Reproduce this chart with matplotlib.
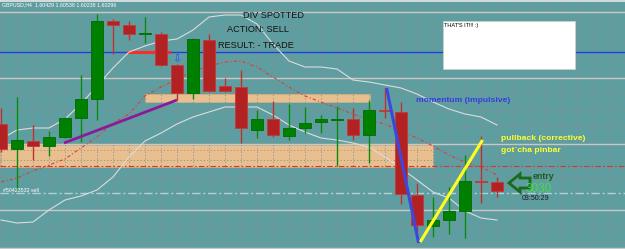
import numpy as np
import matplotlib
matplotlib.use('Agg')
import matplotlib.pyplot as plt
from matplotlib.patches import Rectangle, Polygon

# GBPUSD H4 candles, oldest -> newest (prices)
opens = [1.61299, 1.60924, 1.61044, 1.60969, 1.61104, 1.61389, 1.61674, 1.62844,
         1.62784, 1.62649, 1.62649, 1.62184, 1.61764, 1.62559, 1.61869, 1.61854,
         1.61209, 1.61374, 1.61119, 1.61239, 1.61329, 1.61359, 1.61374, 1.61134,
         1.61509, 1.61479, 1.60234, 1.59769, 1.59859, 1.59994, 1.60444, 1.60429]
highs = [1.61539, 1.61704, 1.61284, 1.61194, 1.61404, 1.62034, 1.62949, 1.62874,
         1.62844, 1.62904, 1.62679, 1.62199, 1.62589, 1.62649, 1.61989, 1.62109,
         1.61509, 1.61644, 1.61599, 1.61554, 1.61434, 1.61569, 1.61539, 1.61659,
         1.61839, 1.61629, 1.60414, 1.60204, 1.60354, 1.60834, 1.61119, 1.60504]
lows = [1.60879, 1.60324, 1.60759, 1.60819, 1.61089, 1.61029, 1.61359, 1.62349,
        1.62559, 1.62514, 1.62169, 1.61659, 1.61674, 1.61779, 1.61779, 1.61014,
        1.61089, 1.61104, 1.61059, 1.61164, 1.61164, 1.60669, 1.61059, 1.60714,
        1.61389, 1.60099, 1.59679, 1.59604, 1.59649, 1.59589, 1.60114, 1.60204]
closes = [1.60924, 1.61059, 1.60969, 1.61104, 1.61389, 1.61674, 1.62844, 1.62784,
          1.62649, 1.62664, 1.62184, 1.61764, 1.62574, 1.61794, 1.61794, 1.61239,
          1.61374, 1.61134, 1.61239, 1.61314, 1.61374, 1.61374, 1.61134, 1.61509,
          1.61494, 1.60249, 1.59784, 1.59859, 1.59994, 1.60444, 1.60429, 1.60294]

# bollinger bands
bb_upper = [1.61074, 1.61209, 1.61239, 1.61239, 1.61374, 1.61599, 1.61869, 1.62139,
            1.62379, 1.62469, 1.62544, 1.62574, 1.62709, 1.62904, 1.62934, 1.62934,
            1.62799, 1.62499, 1.62244, 1.62154, 1.62154, 1.62124, 1.61959, 1.61929,
            1.61884, 1.61839, 1.61749, 1.61629, 1.61524, 1.61449, 1.61404, 1.61284]
bb_middle = [1.60429, 1.60489, 1.60594, 1.60684, 1.60774, 1.60939, 1.61104, 1.61314,
             1.61449, 1.61719, 1.61854, 1.61974, 1.62094, 1.62169, 1.62229, 1.62244,
             1.62154, 1.62004, 1.61854, 1.61719, 1.61629, 1.61539, 1.61449, 1.61359,
             1.61299, 1.61194, 1.61089, 1.60969, 1.60834, 1.60729, 1.60654, 1.60534]
bb_lower = [1.59859, 1.59814, 1.59829, 1.60009, 1.60159, 1.60219, 1.60309, 1.60504,
            1.60804, 1.61044, 1.61164, 1.61299, 1.61404, 1.61479, 1.61554, 1.61554,
            1.61554, 1.61434, 1.61284, 1.61179, 1.61089, 1.61059, 1.61014, 1.60954,
            1.60804, 1.60639, 1.60459, 1.60279, 1.60189, 1.59994, 1.59889, 1.59859]

# horizontal levels
round_levels = [1.62979, 1.61989, 1.60999, 1.60009]
blue_level = 1.62379
sell_level = 1.60264
red_level = 1.60669
zone_mid = 1.60909

# zones: (x start, x end, price low, price high)
zone_big = (-0.0625, 27.0, 1.60654, 1.60984)
zone_small = (9.0, 23.06, 1.61629, 1.61749)

# drawn lines: (x0, x1), (p0, p1)
purple_x, purple_y = [3.94, 11.0], [1.61014, 1.61659]
blue_x, blue_y = [24.1, 26.1], [1.61839, 1.59514]
yellow_x, yellow_y = [26.2, 30.1], [1.59529, 1.61059]
redseg_x, redseg_y = [7.94, 10.5], [blue_level, blue_level]

W, H = 625, 249
bg = '#5f9ea0'
fig = plt.figure(figsize=(W / 100, H / 100), dpi=100, facecolor=bg)
ax = fig.add_axes([0, 0, 1, 1], facecolor=bg)
ax.set_xlim(-0.0625, 39.0)
ax.set_ylim(1.59424, 1.63159)
for s in ax.spines.values():
    s.set_visible(False)
ax.tick_params(left=False, bottom=False, labelleft=False, labelbottom=False)

def axpos(x, y):
    return x / W, 1 - y / H

x = np.arange(len(opens))
o = np.array(opens); c = np.array(closes)

# grid
for gx in np.arange(0, 39):
    ax.axvline(gx, color='#8c8c8c', lw=0.6, ls=(0, (1.5, 2.5)), zorder=2)
for gy in np.arange(1.59509, 1.6318, 0.0025):
    ax.axhline(gy, color='#8c8c8c', lw=0.6, ls=(0, (1.5, 2.5)), zorder=2)

# zones
for x0, x1, p0, p1 in [zone_big, zone_small]:
    ax.add_patch(Rectangle((x0, p0), x1 - x0, p1 - p0, facecolor='#e8c090',
                           edgecolor='#d8b080', lw=0.5, zorder=1))
ax.plot([zone_big[0], zone_big[1]], [zone_mid, zone_mid], color='#a09080',
        lw=0.6, ls=(0, (1.5, 2.5)), zorder=2)

for lv in round_levels:
    ax.axhline(lv, color='#c8c8c8', lw=1.0, zorder=2)
ax.axhline(blue_level, color='#1f3fe0', lw=1.0, zorder=2)
ax.axhline(sell_level, color='#a8d4dc', lw=1.0, ls=(0, (6, 2, 1.5, 2)), zorder=2)
ax.axhline(red_level, color='#e03030', lw=0.8, ls=(0, (5, 2, 1.5, 2)), zorder=2)
ax.plot(redseg_x, redseg_y, color='#ff2a2a', lw=2.2, zorder=3)

# bands
ax.plot(x, bb_upper, color='#dcdcdc', lw=0.8, zorder=3)
ax.plot(x, bb_lower, color='#dcdcdc', lw=0.8, zorder=3)
ax.plot(x, bb_middle, color='#e03a3a', lw=0.8, ls=(0, (3, 2, 1, 2)), zorder=3)

# candles
up = c >= o
cols = np.where(up, '#008000', '#b22222')
ax.vlines(x, lows, highs, colors=np.where(up, '#0a8a0a', '#c03030'), lw=1, zorder=4)
hts = np.maximum(np.abs(c - o), 0.00014)
ax.bar(x, hts, width=0.78, bottom=np.minimum(o, c), color=cols,
       edgecolor=np.where(up, '#006a00', '#c43a3a'), lw=0.6, zorder=5)

# trend lines
ax.plot(purple_x, purple_y, color='#8b1a9a', lw=2, zorder=6, solid_capstyle='butt')
ax.plot(blue_x, blue_y, color='#3b47e0', lw=2.2, zorder=6, solid_capstyle='butt')
ax.plot(yellow_x, yellow_y, color='#ffff20', lw=2.2, zorder=6, solid_capstyle='butt')

# frame lines
ax.axhline(1.63139, color='#e8e8e8', lw=1.2, zorder=7)
ax.axhline(1.59444, color='#c8c8c8', lw=1.0, zorder=7)

fn = 'Liberation Sans'
ax.text(*axpos(2, 5), 'GBPUSD,H4  1.60429 1.60538 1.60238 1.60296', transform=ax.transAxes,
        fontsize=3.8, color='white', va='center', ha='left', family=fn, zorder=8)
ax.text(*axpos(3, 190), '#50423532 sell', transform=ax.transAxes,
        fontsize=3.8, color='white', va='center', ha='left', family=fn, zorder=8)
for (tx, ty, s) in [(243, 16, 'DIV SPOTTED'), (227, 30, 'ACTION: SELL'),
                    (218, 46, 'RESULT: - TRADE')]:
    ax.text(*axpos(tx, ty), s, transform=ax.transAxes, fontsize=6.6, color='#111111',
            va='center', ha='left', family=fn, zorder=8)

# comment box
ax.add_patch(Rectangle(axpos(443, 69), 132 / W, 48 / H, transform=ax.transAxes,
                       facecolor='white', edgecolor='#d0d0d0', lw=0.5, zorder=8))
ax.text(*axpos(444, 25), "THAT'S IT!!! :)", transform=ax.transAxes, fontsize=4,
        color='black', va='center', ha='left', family=fn, zorder=9)

ax.text(*axpos(416, 100), 'momentum (impulsive)', transform=ax.transAxes, fontsize=6.1,
        color='#3a3ae0', weight='bold', va='center', ha='left', family=fn, zorder=8)
ax.text(*axpos(501, 138), 'pullback (corrective)', transform=ax.transAxes, fontsize=6.1,
        color='#ffff30', weight='bold', va='center', ha='left', family=fn, zorder=8)
ax.text(*axpos(501, 150), 'got`cha pinbar', transform=ax.transAxes, fontsize=6.1,
        color='#ffff30', weight='bold', va='center', ha='left', family=fn, zorder=8)
ax.text(*axpos(533, 176), 'entry', transform=ax.transAxes, fontsize=6.3,
        color='#1c5e1c', weight='bold', va='center', ha='left', family=fn, zorder=8)
ax.text(*axpos(526, 189), '3030', transform=ax.transAxes, fontsize=8.5,
        color='#44dd44', va='center', ha='left', family=fn, zorder=9)
ax.text(*axpos(522, 199), '03:50:29', transform=ax.transAxes, fontsize=5,
        color='#1a1a1a', va='center', ha='left', family=fn, zorder=8)

# sell arrow and entry arrow
ax.text(*axpos(177, 59), '\u21e9', transform=ax.transAxes, fontsize=8, color='#2050ff',
        va='center', ha='center', family='DejaVu Sans', zorder=8)
arrow = [(509, 183), (520, 174), (520, 178), (530, 178), (530, 188), (520, 188), (520, 192)]
ax.add_patch(Polygon([axpos(a, b) for a, b in arrow], closed=True, transform=ax.transAxes,
                     facecolor='none', edgecolor='#1a6a1a', lw=2, zorder=8))

fig.savefig('out.png', dpi=100, facecolor=bg)
